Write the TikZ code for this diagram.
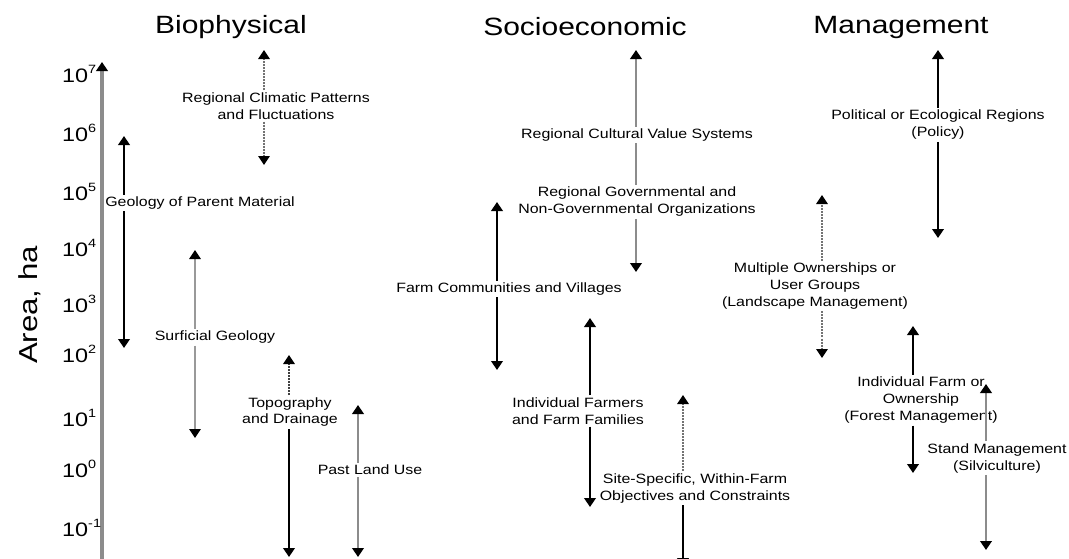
\documentclass[tikz,border=0pt]{standalone}
\usepackage{fontspec}
\setmainfont{Liberation Sans}
\newfontfamily\lfont[FakeStretch=1.18]{Liberation Sans}
\newfontfamily\hfont[FakeStretch=1.2]{Liberation Sans}
\usetikzlibrary{arrows.meta}
\newcommand\tpow[1]{10\raisebox{0.8ex}{\fontsize{12}{12}\selectfont #1}}
\begin{document}
\begin{tikzpicture}[x=1pt,y=-1pt,
  lbl/.style={font=\lfont\fontsize{13.5}{17}\selectfont, align=center, inner sep=2pt},
  head/.style={font=\hfont\fontsize{25}{28}\selectfont, inner sep=0pt},
  tickl/.style={font=\hfont\fontsize{19.5}{21}\selectfont, anchor=base west, inner sep=0pt},
  arrowend/.style={-{Triangle[width=11.5pt,length=9pt,color=black]}},
  bline/.style={draw=black, line width=2.6pt},
  gline/.style={draw=black!45, line width=2.6pt},
  blk/.style={bline, arrowend},
  gry/.style={gline, arrowend},
  thn/.style={arrowend, draw=black!40, line width=1.6pt},
  dot/.style={arrowend, draw=black!55, line width=1.6pt, dash pattern=on 2pt off 1pt},
  ]
\useasboundingbox (0,0) rectangle (1069,558);

% headings
\node[head] (hb) at (231,27) {Biophysical};
\node[head] (hs) at (585,27) {Socioeconomic};
\node[head] (hm) at (901,27) {Management};

% axis
\node[font=\hfont\fontsize{26}{28}\selectfont, rotate=90, inner sep=0pt] (area) at (30,305) {Area, ha};
\coordinate (axb) at (102,562);
\coordinate (axt) at (102,62);
\draw[gry, line width=3.2pt] (axb) -- (axt);

\node[tickl] (t7) at (62,82) {\tpow{7}};
\node[tickl] (t6) at (62,141) {\tpow{6}};
\node[tickl] (t5) at (62,200) {\tpow{5}};
\node[tickl] (t4) at (62,256) {\tpow{4}};
\node[tickl] (t3) at (62,312) {\tpow{3}};
\node[tickl] (t2) at (62,362) {\tpow{2}};
\node[tickl] (t1) at (62,426) {\tpow{1}};
\node[tickl] (t0) at (62,477) {\tpow{0}};
\node[tickl] (tm1) at (62,536) {\tpow{-1}};

% ---------- Biophysical
\node[lbl] (l1) at (276,106) {Regional Climatic Patterns\\and Fluctuations};
\coordinate (a1t) at (264,50); \coordinate (a1b) at (264,165);
\draw[dot] (l1.north -| a1t) -- (a1t);
\draw[dot] (l1.south -| a1b) -- (a1b);

\node[lbl] (l2) at (200,203) {Geology of Parent Material};
\coordinate (a2t) at (124,136); \coordinate (a2b) at (124,348);
\draw[blk] (l2.north -| a2t) -- (a2t);
\draw[blk] (l2.south -| a2b) -- (a2b);

\node[lbl] (l3) at (215,337) {Surficial Geology};
\coordinate (a3t) at (195,250); \coordinate (a3b) at (195,438);
\draw[thn] (l3.north -| a3t) -- (a3t);
\draw[thn] (l3.south -| a3b) -- (a3b);

\node[lbl] (l4) at (290,412) {Topography\\and Drainage};
\coordinate (a4t) at (289,355); \coordinate (a4b) at (289,557);
\draw[dot, draw=black!75] (l4.north -| a4t) -- (a4t);
\draw[blk] (l4.south -| a4b) -- (a4b);

\node[lbl] (l5) at (370,470) {Past Land Use};
\coordinate (a5t) at (358,405); \coordinate (a5b) at (358,557);
\draw[gry] (l5.north -| a5t) -- (a5t);
\draw[gry] (l5.south -| a5b) -- (a5b);

% ---------- Socioeconomic
\node[lbl] (l6a) at (637,135) {Regional Cultural Value Systems};
\node[lbl] (l6b) at (637,202) {Regional Governmental and\\Non-Governmental Organizations};
\coordinate (a6t) at (636,50); \coordinate (a6b) at (636,272);
\draw[gry] (l6a.north -| a6t) -- (a6t);
\draw[gline] (l6a.south -| a6t) -- (l6b.north -| a6t);
\draw[gry] (l6b.south -| a6b) -- (a6b);

\node[lbl] (l7) at (509,289) {Farm Communities and Villages};
\coordinate (a7t) at (497,202); \coordinate (a7b) at (497,370);
\draw[blk] (l7.north -| a7t) -- (a7t);
\draw[blk] (l7.south -| a7b) -- (a7b);

\node[lbl] (l8) at (578,411) {Individual Farmers\\and Farm Families};
\coordinate (a8t) at (590,318); \coordinate (a8b) at (590,507);
\draw[blk] (l8.north -| a8t) -- (a8t);
\draw[blk] (l8.south -| a8b) -- (a8b);

\node[lbl] (l9) at (695,488) {Site-Specific, Within-Farm\\Objectives and Constraints};
\coordinate (a9t) at (683,395); \coordinate (a9b) at (683,567);
\draw[dot] (l9.north -| a9t) -- (a9t);
\draw[blk] (l9.south -| a9b) -- (a9b);

% ---------- Management
\node[lbl] (l10) at (938,125) {Political or Ecological Regions\\(Policy)};
\coordinate (a10t) at (938,50); \coordinate (a10b) at (938,238);
\draw[blk] (l10.north -| a10t) -- (a10t);
\draw[blk] (l10.south -| a10b) -- (a10b);

\node[lbl] (l11) at (815,286) {Multiple Ownerships or\\User Groups\\(Landscape Management)};
\coordinate (a11t) at (822,195); \coordinate (a11b) at (822,358);
\draw[dot] (l11.north -| a11t) -- (a11t);
\draw[dot] (l11.south -| a11b) -- (a11b);

\node[lbl] (l12) at (921,400) {Individual Farm or\\Ownership\\(Forest Management)};
\coordinate (a12t) at (913,326); \coordinate (a12b) at (913,473);
\draw[blk] (l12.north -| a12t) -- (a12t);
\draw[blk] (l12.south -| a12b) -- (a12b);

\node[lbl] (l13) at (997,458) {Stand Management\\(Silviculture)};
\coordinate (a13t) at (986,384); \coordinate (a13b) at (986,550);
\draw[gry] (l13.north -| a13t) -- (a13t);
\draw[gry] (l13.south -| a13b) -- (a13b);
\end{tikzpicture}
\end{document}
